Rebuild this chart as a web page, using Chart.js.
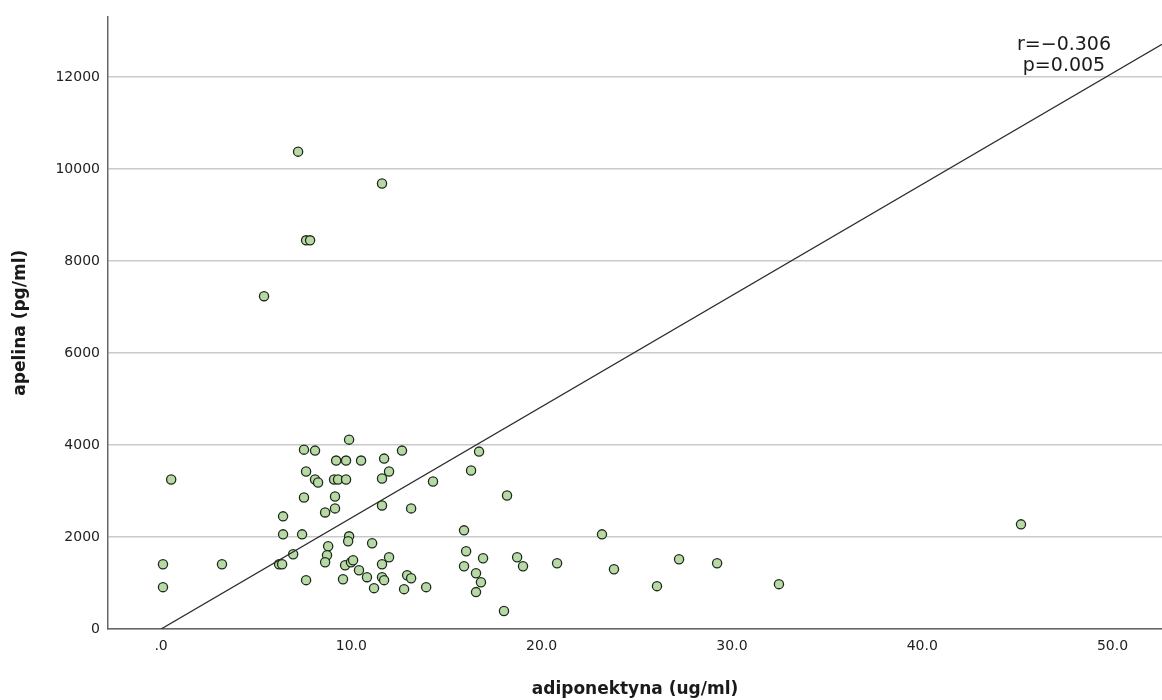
<!DOCTYPE html>
<html>
<head>
<meta charset="utf-8">
<script src="https://cdn.jsdelivr.net/npm/chart.js@4"></script>
<style>
  html, body { margin: 0; padding: 0; background: #fff; }
  #wrap { width: 1162px; height: 700px; }
</style>
</head>
<body>
<div id="wrap"><canvas id="chart" width="1162" height="700"></canvas></div>
<script>
// adiponektyna (ug/ml) values
const adiponectin = [
  0.53, 0.1, 0.1, 3.2, 6.41, 6.41, 7.41, 6.94, 6.2, 6.36,
  7.51, 8.09, 7.62, 8.09, 8.25, 7.51, 7.62, 8.62, 9.14, 9.14,
  9.2, 9.72, 9.09, 9.3, 9.72, 9.88, 10.51, 11.72, 11.98, 11.61,
  11.61, 9.88, 9.83, 8.78, 8.72, 8.62, 9.67, 9.98, 10.09, 9.56,
  10.4, 10.82, 11.19, 11.09, 11.61, 11.98, 11.61, 11.72, 12.66, 12.77,
  16.71, 16.29, 14.29, 18.18, 13.14, 15.92, 23.17, 16.03, 16.92, 18.71,
  19.02, 20.81, 15.92, 16.55, 16.81, 16.55, 18.02, 12.93, 13.14, 13.93,
  23.8, 26.06, 27.22, 29.22, 32.47, 45.19, 7.2, 11.61, 7.62, 7.83,
  5.41
];
// apelina (pg/ml) values
const apelin = [
  3250, 1408, 910, 1408, 2449, 2058, 2058, 1625, 1408, 1408,
  3900, 3879, 3424, 3250, 3185, 2860, 1062, 2535, 2622, 2882,
  3662, 3662, 3250, 3250, 3250, 4117, 3662, 3705, 3424, 3272,
  2687, 2015, 1907, 1798, 1603, 1452, 1387, 1452, 1495, 1083,
  1278, 1127, 888, 1863, 1408, 1560, 1127, 1062, 3879, 867,
  3857, 3445, 3207, 2904, 2622, 2145, 2058, 1690, 1538, 1560,
  1365, 1430, 1365, 1213, 1018, 802, 390, 1170, 1105, 910,
  1300, 932, 1517, 1430, 975, 2275, 10379, 9686, 8451, 8451,
  7237
];
// fit line end points as drawn
const fitX = [0, 52.6];
const fitY = [0, 12714];
const statsText = ['r=\u22120.306', 'p=0.005'];

const points = adiponectin.map((x, i) => ({ x, y: apelin[i] }));
const fitLine = fitX.map((x, i) => ({ x, y: fitY[i] }));

// r / p annotation in the top right corner
const statsLabel = {
  id: 'statsLabel',
  afterDatasetsDraw(chart) {
    const ctx = chart.ctx;
    ctx.save();
    ctx.fillStyle = '#1a1a1a';
    ctx.font = '19px "DejaVu Sans"';
    ctx.textAlign = 'center';
    ctx.textBaseline = 'middle';
    ctx.fillText(statsText[0], 1064, 45);
    ctx.fillText(statsText[1], 1064, 66);
    ctx.restore();
  }
};

new Chart(document.getElementById('chart'), {
  type: 'scatter',
  data: {
    datasets: [
      {
        type: 'line',
        data: fitLine,
        borderColor: '#2b2b2b',
        borderWidth: 1.3,
        pointRadius: 0,
        fill: false,
        order: 0
      },
      {
        data: points,
        backgroundColor: '#b7d9a4',
        borderColor: '#1f2a1f',
        borderWidth: 1.3,
        pointRadius: 4.6,
        order: 1
      }
    ]
  },
  options: {
    responsive: false,
    animation: false,
    layout: { autoPadding: false, padding: { top: 14, right: 0, left: 0, bottom: 0 } },
    plugins: { legend: { display: false }, tooltip: { enabled: false } },
    scales: {
      x: {
        type: 'linear',
        min: -2.79,
        max: 52.6,
        afterBuildTicks: s => { s.ticks = [0, 10, 20, 30, 40, 50].map(v => ({ value: v })); },
        afterFit: s => { s.height = 71; s.paddingLeft = 0; s.paddingRight = 0; },
        grid: { display: false, drawTicks: false },
        border: { color: '#666', width: 1.5 },
        ticks: {
          padding: 9,
          color: '#222',
          font: { family: 'DejaVu Sans', size: 14 },
          callback: v => v === 0 ? '.0' : v.toFixed(1)
        },
        title: {
          display: true,
          text: 'adiponektyna (ug/ml)',
          color: '#1a1a1a',
          font: { family: 'DejaVu Sans', size: 17, weight: 'bold' },
          padding: { top: 0, bottom: 0 }
        }
      },
      y: {
        min: 0,
        max: 13320,
        afterBuildTicks: s => { s.ticks = [0, 2000, 4000, 6000, 8000, 10000, 12000].map(v => ({ value: v })); },
        afterFit: s => { s.width = 108; },
        grid: { color: '#c9c9c9', lineWidth: 1.5, drawTicks: false },
        border: { color: '#666', width: 1.5 },
        ticks: {
          padding: 8,
          color: '#222',
          font: { family: 'DejaVu Sans', size: 14 },
          callback: v => String(v)
        },
        title: {
          display: true,
          text: 'apelina (pg/ml)',
          color: '#1a1a1a',
          font: { family: 'DejaVu Sans', size: 17, weight: 'bold' },
          padding: { top: 10, bottom: 0 }
        }
      }
    }
  },
  plugins: [statsLabel]
});
</script>
</body>
</html>
